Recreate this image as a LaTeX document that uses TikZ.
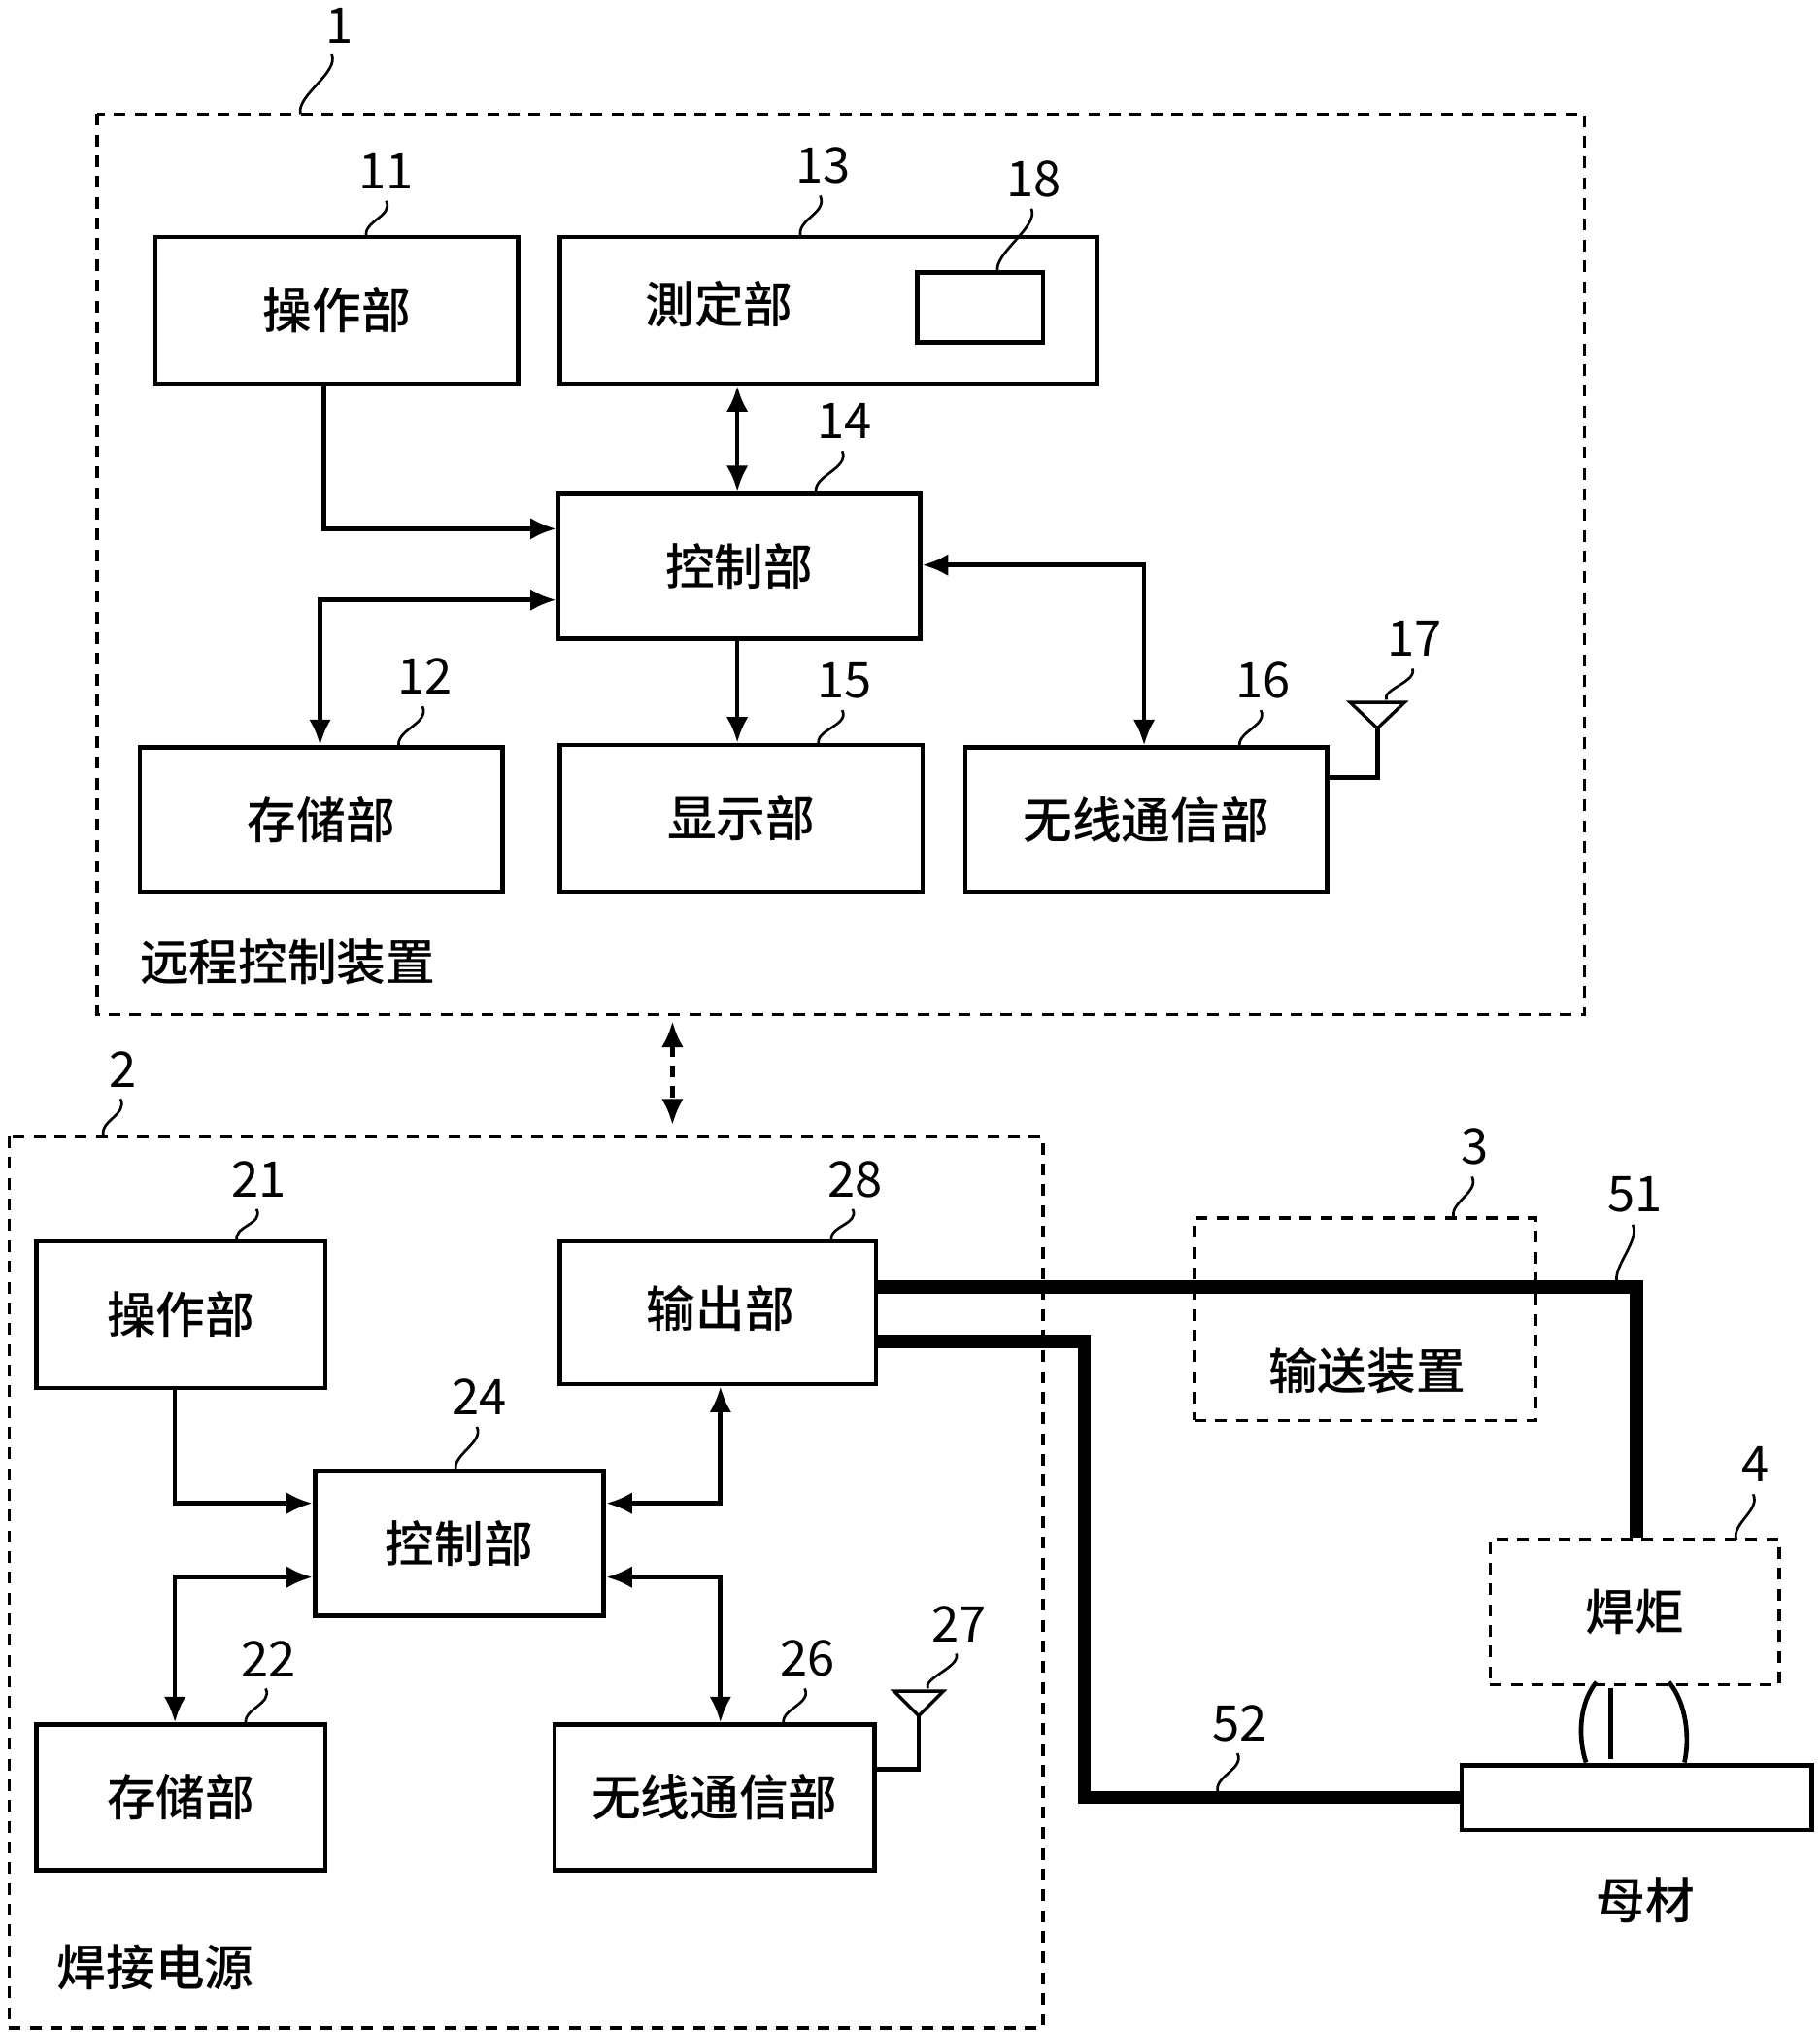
\documentclass[tikz,border=0pt]{standalone}
\usepackage{fontspec}
\setmainfont{Noto Sans CJK SC}[BoldFont={Noto Sans CJK SC Medium}]
\usetikzlibrary{arrows.meta}
\begin{document}
\begin{tikzpicture}[x=1pt,y=-1pt,
  every node/.style={font=\fontsize{38}{44}\selectfont\bfseries},
  box/.style={draw,line width=3.5pt,inner sep=0pt},
  dbox/.style={draw,line width=2.5pt,dash pattern=on 9pt off 7pt},
  lab/.style={font=\fontsize{38}{42}\selectfont,inner sep=1pt},
  ar/.style={line width=3.5pt,-{Latex[length=20pt,width=17pt]}},
  bar/.style={line width=3.5pt,{Latex[length=20pt,width=17pt]}-{Latex[length=20pt,width=17pt]}},
  cab/.style={line width=10pt},
  ld/.style={line width=2pt}]
\useasboundingbox (0,0) rectangle (1404,1568);
% group 1
\draw[dbox] (75,88) rectangle (1223,783);
\node[lab] (g1) at (262,20) {1};
\draw[ld] (256,42) .. controls +(6,14) and +(-4,-14) .. (232,88);
\node[box,minimum width=280,minimum height=113] (b11) at (260,239.5) {操作部};
\node[box,minimum width=415,minimum height=113] (b13) at (639.5,239.5) {};
\node (t13) at (555,235) {測定部};
\node[draw,line width=3.5pt,minimum width=97,minimum height=54,inner sep=0] (b18) at (756.5,237) {};
\node[box,minimum width=279,minimum height=112] (b14) at (570.5,437) {控制部};
\node[box,minimum width=280,minimum height=111] (b12) at (248,632.5) {存储部};
\node[box,minimum width=280,minimum height=113] (b15) at (572,631.5) {显示部};
\node[box,minimum width=279,minimum height=111] (b16) at (884.5,632.5) {无线通信部};
\node[lab] (l11) at (298,132) {11};
\draw[ld] (298,155) .. controls +(6,12) and +(-4,-12) .. (283,183);
\node[lab] (l13) at (635,128) {13};
\draw[ld] (633,151) .. controls +(6,14) and +(-4,-14) .. (618,183);
\node[lab] (l18) at (798,138) {18};
\draw[ld] (796,161) .. controls +(6,14) and +(-4,-14) .. (770,210);
\node[lab] (l14) at (652,325) {14};
\draw[ld] (650,348) .. controls +(6,14) and +(-4,-14) .. (630,381);
\node[lab] (l12) at (328,522) {12};
\draw[ld] (326,545) .. controls +(6,14) and +(-4,-14) .. (308,577);
\node[lab] (l15) at (652,525) {15};
\draw[ld] (650,548) .. controls +(6,12) and +(-4,-12) .. (632,575);
\node[lab] (l16) at (975,525) {16};
\draw[ld] (973,548) .. controls +(6,12) and +(-4,-12) .. (957,577);
\node[lab] (l17) at (1092,493) {17};
\draw[ld] (1090,516) .. controls +(4,10) and +(-4,-8) .. (1070,540);
\coordinate (a17) at (1063,600);
\draw[line width=3.5pt] (b16.east |- a17) -- (a17) -- (1063,560);
\draw[line width=2.5pt] (1042,542) -- (1084,542) -- (1063,562) -- cycle;
\node (t1) at (222,742) {远程控制装置};
\coordinate (c1) at (250,408);
\draw[ar] (b11.south -| c1) -- (c1) -- (b14.west |- c1);
\draw[bar] (b13.south -| 569,0) -- (b14.north -| 569,0);
\coordinate (c2) at (247,463);
\draw[bar] (b14.west |- c2) -- (c2) -- (b12.north -| c2);
\draw[ar] (b14.south -| 569,0) -- (b15.north -| 569,0);
\coordinate (c3) at (883,436);
\draw[bar] (b14.east |- c3) -- (c3) -- (b16.north -| c3);
% link
\coordinate (d1) at (519,788); \coordinate (d2) at (519,868);
\draw[bar,dash pattern=on 9pt off 7pt] (d1) -- (d2);
% group 2
\draw[dbox] (7,877) rectangle (805,1565);
\node[lab] (g2) at (95,825) {2};
\draw[ld] (93,848) .. controls +(6,12) and +(-4,-12) .. (80,877);
\node[box,minimum width=223,minimum height=113] (b21) at (139.5,1014.5) {操作部};
\node[box,minimum width=244,minimum height=110] (b28) at (554,1013) {};
\node (t28) at (556,1010) {输出部};
\node[box,minimum width=223,minimum height=112] (b24) at (354.5,1191) {控制部};
\node[box,minimum width=223,minimum height=112] (b22) at (139.5,1387) {存储部};
\node[box,minimum width=247,minimum height=112] (b26) at (551.5,1387) {无线通信部};
\node[lab] (l21) at (200,910) {21};
\draw[ld] (198,933) .. controls +(6,12) and +(-4,-12) .. (183,958);
\node[lab] (l28) at (660,910) {28};
\draw[ld] (658,933) .. controls +(6,12) and +(-4,-12) .. (642,958);
\node[lab] (l24) at (370,1078) {24};
\draw[ld] (368,1101) .. controls +(6,12) and +(-4,-12) .. (352,1135);
\node[lab] (l22) at (207,1280) {22};
\draw[ld] (205,1303) .. controls +(6,12) and +(-4,-12) .. (190,1331);
\node[lab] (l26) at (623,1280) {26};
\draw[ld] (621,1303) .. controls +(6,12) and +(-4,-12) .. (605,1331);
\node[lab] (l27) at (740,1253) {27};
\draw[ld] (738,1276) .. controls +(4,10) and +(-4,-8) .. (716,1303);
\coordinate (a27) at (709,1365);
\draw[line width=3.5pt] (b26.east |- a27) -- (a27) -- (709,1322);
\draw[line width=2.5pt] (690,1305) -- (728,1305) -- (709,1324) -- cycle;
\node (t2) at (120,1518) {焊接电源};
\coordinate (e1) at (135,1160);
\draw[ar] (b21.south -| e1) -- (e1) -- (b24.west |- e1);
\coordinate (e2) at (135,1217);
\draw[bar] (b24.west |- e2) -- (e2) -- (b22.north -| e2);
\coordinate (e3) at (556,1160);
\draw[bar] (b24.east |- e3) -- (e3) -- (b28.south -| e3);
\coordinate (e4) at (556,1217);
\draw[bar] (b24.east |- e4) -- (e4) -- (b26.north -| e4);
% right side
\node[dbox,minimum width=263,minimum height=156,inner sep=0] (b3) at (1053.5,1018) {};
\node (t3) at (1055,1058) {输送装置};
\node[lab] (l3) at (1138,885) {3};
\draw[ld] (1136,908) .. controls +(6,12) and +(-4,-12) .. (1122,940);
\node[dbox,minimum width=223,minimum height=112,inner sep=0] (b4) at (1261.5,1244) {焊炬};
\node[lab] (l4) at (1355,1130) {4};
\draw[ld] (1353,1153) .. controls +(6,12) and +(-4,-12) .. (1340,1188);
\node[draw,line width=3.5pt,minimum width=270,minimum height=50,inner sep=0] (bm) at (1263,1387) {};
\node (tm) at (1270,1466) {母材};
\coordinate (k1) at (1263,993);
\draw[cab] (b28.east |- k1) -- (k1) -- (b4.north -| k1);
\coordinate (k2) at (837,1035); \coordinate (k3) at (837,1387);
\draw[cab] (b28.east |- k2) -- (k2) -- (k3) -- (bm.west |- k3);
\node[lab] (l51) at (1262,922) {51};
\draw[ld] (1260,945) .. controls +(6,12) and +(-4,-12) .. (1248,990);
\node[lab] (l52) at (957,1330) {52};
\draw[ld] (955,1353) .. controls +(6,12) and +(-4,-12) .. (940,1383);
\draw[line width=3.5pt] (1243,1303) -- (1243,1357);
\draw[line width=3.5pt] (1232,1298) .. controls (1218,1315) and (1218,1342) .. (1224,1360);
\draw[line width=3.5pt] (1288,1298) .. controls (1302,1315) and (1304,1342) .. (1300,1360);
\end{tikzpicture}
\end{document}
